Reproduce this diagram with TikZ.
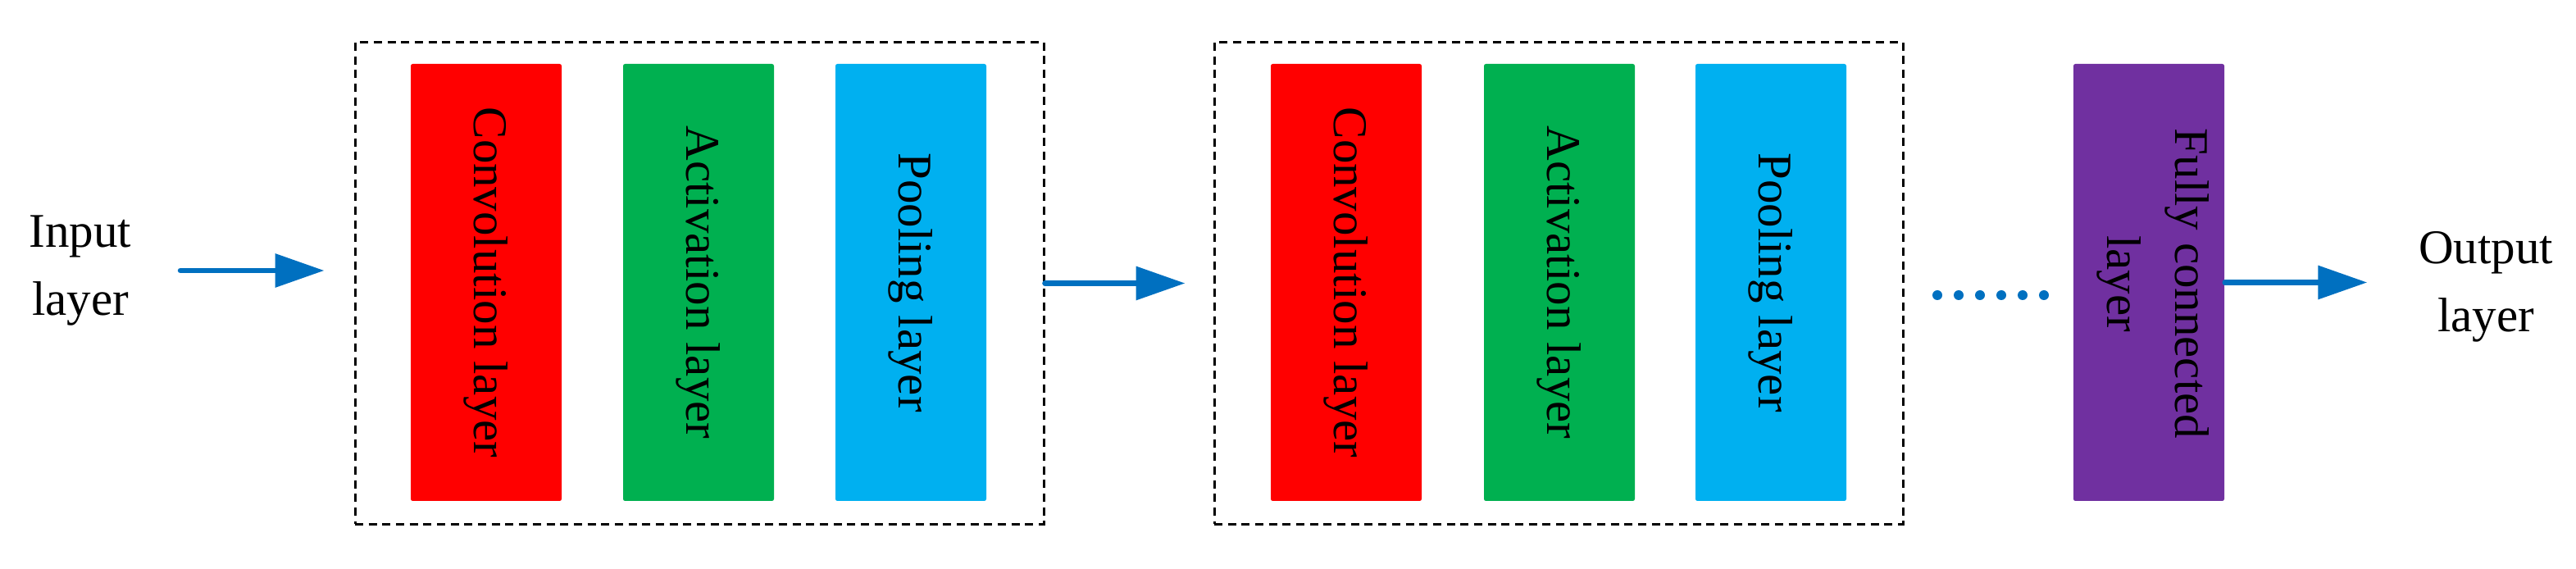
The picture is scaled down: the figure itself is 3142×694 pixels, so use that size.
\documentclass[tikz,border=0pt]{standalone}
\usepackage{fontspec}
\setmainfont{Liberation Serif}
\usetikzlibrary{arrows.meta}
\definecolor{cred}{HTML}{FF0000}
\definecolor{cgreen}{HTML}{00B050}
\definecolor{cblue}{HTML}{00B0F0}
\definecolor{cpurple}{HTML}{7030A0}
\definecolor{carrow}{HTML}{0070C0}
\begin{document}
\begin{tikzpicture}[x=0.25pt,y=-0.25pt,
  lbl/.style={font=\fontsize{14.75}{20.75}\selectfont, align=center, inner sep=0pt},
  layerbox/.style={rotate=-90, minimum width=133.25pt, minimum height=46pt, inner sep=0pt,
    rounded corners=0.6pt, font=\fontsize{14.75}{20.75}\selectfont, align=center, text=black},
  stagebox/.style={draw=black, dash pattern=on 2.5pt off 1.67pt, line width=0.75pt,
    minimum width=210pt, minimum height=147pt, inner sep=0pt},
  arr/.style={draw=carrow, line width=1.65pt, line cap=round, -{Triangle[length=15pt,width=10pt]}},
  dotline/.style={draw=carrow, line width=3pt, line cap=round, dash pattern=on 0pt off 6.5pt},
]
\useasboundingbox (0,0) rectangle (3142,694);

\node[lbl] (inp) at (98,330) {Input\\layer};
\node[lbl] (out) at (3032,350) {Output\\layer};

\node[stagebox] (box1) at (853,345.5) {};
\node[stagebox] (box2) at (1901,345.5) {};

\node[layerbox, fill=cred] (c1) at (593,344.5) {Convolution layer};
\node[layerbox, fill=cgreen] (a1) at (852,344.5) {Activation layer};
\node[layerbox, fill=cblue] (p1) at (1111,344.5) {Pooling layer};

\node[layerbox, fill=cred] (c2) at (1642,344.5) {Convolution layer};
\node[layerbox, fill=cgreen] (a2) at (1902,344.5) {Activation layer};
\node[layerbox, fill=cblue] (p2) at (2160,344.5) {Pooling layer};

\node[layerbox, fill=cpurple] (fc) at (2621,344.5) {};
\node[lbl, rotate=-90] (fct) at (2626,346) {Fully connected\\layer};

\coordinate (d1) at (2363,360);
\coordinate (d2) at (2494,360);
\draw[dotline] (d1) -- (d2);

\draw[arr, shorten <=14.75pt, shorten >=9pt] (inp.east) -- (inp.east -| box1.west);
\draw[arr, shorten >=8.5pt] (box1.east) -- (box2.west);
\draw[arr, shorten >=15.5pt] (fc.north) -- (fc.north -| out.west);
\end{tikzpicture}
\end{document}
